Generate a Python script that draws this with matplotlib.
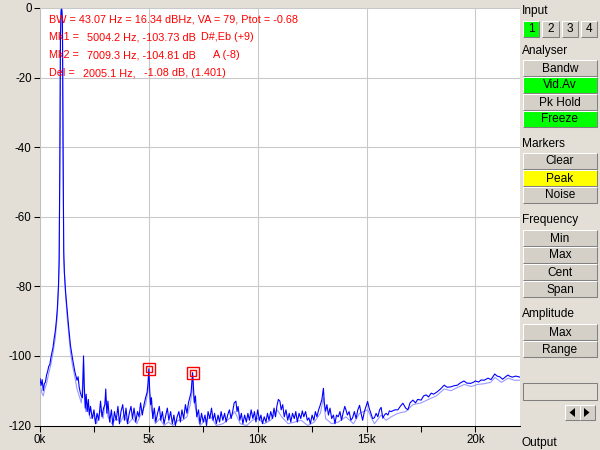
import matplotlib
matplotlib.use("Agg")
import matplotlib.pyplot as plt
from matplotlib.patches import Rectangle, Polygon
from matplotlib.ticker import MultipleLocator, FuncFormatter

plt.rcParams['font.family'] = ['Liberation Sans', 'DejaVu Sans']
plt.rcParams['axes.unicode_minus'] = False

# Spectrum, current frame (kHz, dB)
freq_khz = [
    0.00, 0.05, 0.10, 0.15, 0.20, 0.25, 0.30, 0.35, 0.40, 0.45, 0.50, 0.55,
    0.60, 0.65, 0.70, 0.75, 0.80, 0.85, 0.88, 0.91, 0.94, 0.97, 1.00, 1.03,
    1.06, 1.09, 1.12, 1.18, 1.25, 1.32, 1.40, 1.50, 1.60, 1.70, 1.75, 1.80,
    1.85, 1.90, 1.95, 1.98, 2.00, 2.03, 2.08, 2.12, 2.17, 2.22, 2.27, 2.32,
    2.40, 2.48, 2.55, 2.62, 2.70, 2.78, 2.85, 2.92, 2.98, 3.02, 3.07, 3.12,
    3.20, 3.28, 3.35, 3.42, 3.50, 3.58, 3.65, 3.72, 3.80, 3.88, 3.95, 4.02,
    4.10, 4.18, 4.25, 4.32, 4.40, 4.48, 4.55, 4.62, 4.70, 4.78, 4.85, 4.92,
    4.96, 5.00, 5.04, 5.08, 5.12, 5.18, 5.25, 5.32, 5.40, 5.48, 5.55, 5.62,
    5.70, 5.78, 5.85, 5.92, 6.00, 6.08, 6.15, 6.22, 6.30, 6.38, 6.45, 6.52,
    6.60, 6.68, 6.75, 6.82, 6.88, 6.94, 6.97, 7.01, 7.05, 7.09, 7.14, 7.20,
    7.28, 7.35, 7.42, 7.50, 7.58, 7.65, 7.72, 7.80, 7.88, 7.95, 8.02, 8.10,
    8.18, 8.25, 8.32, 8.40, 8.48, 8.55, 8.62, 8.70, 8.78, 8.85, 8.92, 9.00,
    9.05, 9.10, 9.18, 9.25, 9.32, 9.40, 9.48, 9.55, 9.62, 9.70, 9.78, 9.85,
    9.92, 10.00, 10.08, 10.15, 10.22, 10.30, 10.38, 10.45, 10.52, 10.60,
    10.68, 10.75, 10.82, 10.88, 10.95, 11.02, 11.08, 11.15, 11.22, 11.30,
    11.38, 11.45, 11.52, 11.60, 11.68, 11.75, 11.82, 11.90, 11.98, 12.05,
    12.12, 12.20, 12.28, 12.35, 12.42, 12.50, 12.58, 12.65, 12.72, 12.80,
    12.88, 12.95, 13.02, 13.06, 13.12, 13.18, 13.25, 13.32, 13.40, 13.48,
    13.55, 13.62, 13.70, 13.78, 13.85, 13.92, 14.00, 14.05, 14.12, 14.20,
    14.28, 14.36, 14.44, 14.52, 14.60, 14.68, 14.75, 14.82, 14.90, 14.98,
    15.05, 15.12, 15.20, 15.28, 15.36, 15.44, 15.52, 15.60, 15.67, 15.75,
    15.82, 15.90, 15.98, 16.05, 16.13, 16.30, 16.44, 16.55, 16.67, 16.80,
    16.90, 17.00, 17.13, 17.25, 17.35, 17.51, 17.62, 17.74, 17.85, 17.97,
    18.08, 18.25, 18.40, 18.57, 18.70, 18.88, 19.00, 19.18, 19.30, 19.48,
    19.60, 19.78, 19.90, 20.00, 20.15, 20.27, 20.40, 20.58, 20.72, 20.89,
    21.00, 21.12, 21.25, 21.35, 21.49, 21.60, 21.70, 21.85, 22.05,
]
level_db = [
    -106.5, -108.5, -106.8, -110.0, -108.0, -107.5, -105.5, -104.5, -103.0, -102.5, -100.5, -99.0,
    -97.5, -95.0, -93.0, -90.0, -86.0, -80.0, -72.0, -45.0, -8.0, -0.5, -0.3, -3.0,
    -40.0, -70.0, -76.0, -82.0, -87.0, -92.0, -97.0, -101.0, -104.5, -107.0, -106.0, -109.0,
    -110.5, -111.5, -112.0, -104.0, -100.0, -108.0, -115.0, -111.0, -116.0, -112.5, -117.0, -114.5,
    -118.0, -115.5, -119.5, -116.5, -118.5, -113.0, -117.5, -115.0, -114.0, -109.5, -116.5, -113.0,
    -119.0, -115.5, -120.0, -116.0, -118.5, -114.5, -119.5, -116.0, -114.0, -118.5, -115.0, -119.5,
    -116.5, -114.5, -118.0, -115.0, -119.0, -116.0, -117.5, -113.5, -117.0, -114.0, -112.0, -110.5,
    -108.0, -103.7, -110.0, -114.0, -112.0, -118.0, -115.0, -119.0, -116.5, -114.5, -118.5, -116.0,
    -119.5, -117.0, -115.0, -118.5, -116.0, -119.5, -117.0, -120.0, -117.5, -116.0, -119.0, -115.5,
    -118.0, -114.0, -116.5, -113.5, -112.0, -110.5, -108.0, -104.8, -109.0, -113.5, -111.5, -117.5,
    -115.5, -119.5, -116.5, -119.0, -117.0, -120.0, -116.0, -118.0, -115.0, -118.5, -116.5, -119.5,
    -117.0, -119.0, -116.0, -118.5, -116.5, -119.0, -117.0, -115.5, -118.0, -116.0, -113.5, -113.0,
    -116.0, -114.5, -118.5, -116.5, -119.5, -117.0, -119.0, -116.5, -118.5, -115.5, -118.0, -116.0,
    -119.0, -115.5, -118.5, -117.0, -119.5, -117.5, -119.0, -116.5, -118.5, -116.0,
    -118.0, -115.0, -117.5, -114.5, -112.5, -113.0, -115.5, -114.0, -117.5, -115.5,
    -118.5, -116.5, -119.0, -116.5, -118.0, -116.0, -119.0, -116.5, -118.0, -115.8,
    -117.5, -116.0, -118.5, -117.8, -119.5, -117.0, -118.5, -116.0, -117.5, -115.5,
    -114.0, -112.5, -109.3, -113.5, -115.9, -114.0, -117.0, -115.0, -118.0, -117.0,
    -119.5, -117.0, -117.5, -116.0, -118.5, -116.5, -114.5, -115.4, -117.0, -116.0,
    -118.5, -117.8, -116.0, -118.0, -115.5, -114.2, -116.5, -118.5, -116.0, -114.5,
    -113.1, -115.0, -116.5, -118.0, -117.8, -116.5, -117.5, -115.5, -114.8, -117.9,
    -117.0, -116.5, -117.0, -115.8, -116.0, -115.5, -115.5, -114.5, -113.6, -115.0,
    -115.5, -113.5, -112.7, -113.5, -112.5, -112.7, -111.5, -111.2, -111.8, -110.7,
    -111.0, -110.3, -109.5, -108.4, -109.0, -108.9, -108.6, -108.4, -107.8, -107.2,
    -107.8, -107.9, -107.6, -107.2, -107.5, -106.9, -107.0, -106.4, -106.8, -105.2,
    -105.8, -106.0, -106.7, -106.2, -105.5, -105.9, -106.1, -105.8, -106.1,
]

# Video-averaged trace (kHz, dB)
avg_khz = [
    0.00, 0.08, 0.15, 0.22, 0.30, 0.40, 0.50, 0.60, 0.70, 0.80, 0.88, 0.91,
    0.94, 0.97, 1.00, 1.03, 1.06, 1.09, 1.15, 1.25, 1.40, 1.50, 1.60, 1.70,
    1.80, 1.90, 1.98, 2.00, 2.03, 2.10, 2.20, 2.30, 2.45, 2.60, 2.78, 2.90,
    3.02, 3.12, 3.30, 3.50, 3.70, 3.85, 4.05, 4.25, 4.45, 4.65, 4.85, 4.96,
    5.00, 5.04, 5.12, 5.30, 5.50, 5.70, 5.90, 6.10, 6.35, 6.55, 6.75, 6.90,
    6.97, 7.01, 7.05, 7.14, 7.35, 7.60, 7.85, 8.10, 8.40, 8.70, 8.95, 9.20,
    9.50, 9.75, 10.00, 10.30, 10.60, 10.90, 11.10, 11.40, 11.70, 12.00, 12.30,
    12.60, 12.88, 13.02, 13.12, 13.40, 13.70, 14.05, 14.40, 14.68, 15.05,
    15.36, 15.67, 15.90, 16.13, 16.44, 16.80, 17.13, 17.50, 17.85, 18.20,
    18.57, 18.88, 19.20, 19.50, 19.80, 20.10, 20.40, 20.70, 20.90, 21.20,
    21.50, 21.80, 22.05,
]
avg_db = [
    -108.0, -110.5, -111.5, -109.5, -108.0, -105.0, -102.5, -99.0, -95.0, -88.0, -74.0, -48.0,
    -10.0, -1.0, -0.8, -4.0, -42.0, -72.0, -80.0, -89.0, -99.0, -103.0, -106.0, -109.5,
    -111.5, -113.5, -106.0, -102.0, -110.0, -116.0, -114.0, -118.0, -117.0, -119.5, -115.5, -118.0,
    -112.0, -117.5, -119.5, -118.0, -119.0, -117.0, -119.5, -118.0, -119.5, -116.5, -114.0, -110.0,
    -106.0, -112.0, -115.5, -119.5, -118.0, -120.0, -119.0, -120.0, -118.5, -118.5, -117.5, -114.0,
    -111.0, -107.0, -111.5, -115.0, -120.0, -118.5, -117.5, -120.0, -119.5, -118.0, -116.0, -119.5,
    -120.0, -118.5, -118.0, -119.5, -118.5, -115.5, -117.5, -119.5, -119.0, -118.5, -120.0,
    -119.0, -116.5, -112.0, -118.0, -119.5, -119.0, -117.5, -119.5, -116.5, -115.5,
    -119.5, -117.0, -118.5, -117.5, -116.5, -116.0, -114.0, -113.5, -112.5, -111.5,
    -109.5, -110.0, -109.0, -108.2, -108.8, -108.2, -108.0, -107.6, -106.2, -107.6,
    -106.4, -107.0, -107.0,
]

marker_khz = [5.0042, 7.0093]
marker_db = [-103.73, -104.81]

BG = '#e3dfd7'
FACE = '#d4d0c8'
RED = '#ff0000'

fig = plt.figure(figsize=(6, 4.5), dpi=100, facecolor=BG)

# --- spectrum plot -------------------------------------------------------
ax = fig.add_axes([40 / 600, 24.5 / 450, 480 / 600, 417.5 / 450])
ax.set_facecolor('white')
ax.plot(avg_khz, avg_db, color='#9a9aff', lw=0.8, zorder=2)
ax.plot(freq_khz, level_db, color='#0000ff', lw=0.8, zorder=3)
ax.plot(marker_khz, marker_db, 's', ms=8.5, mfc='none', mec=RED, mew=1.0, zorder=4)
ax.plot(marker_khz, marker_db, 's', ms=4.2, mfc='none', mec=RED, mew=1.0, zorder=4)

ax.set_xlim(0, 22.05)
ax.set_ylim(-120, 0)
ax.xaxis.set_major_locator(MultipleLocator(5))
ax.xaxis.set_minor_locator(MultipleLocator(2.5))
ax.xaxis.set_major_formatter(FuncFormatter(lambda v, p: f"{v:g}k"))
ax.yaxis.set_major_locator(MultipleLocator(20))
ax.grid(True, which='major', color='#c8c8c8', lw=0.75)
ax.set_axisbelow(True)
ax.tick_params(axis='both', which='both', direction='out', length=4.5, width=0.75,
               color='black', labelsize=8.3, pad=1.5)
for side in ('top', 'right'):
    ax.spines[side].set_visible(False)
ax.spines['left'].set_color('#c0c0c0')
ax.spines['bottom'].set_color('black')
ax.spines['left'].set_linewidth(0.75)
ax.spines['bottom'].set_linewidth(0.75)

# --- overlay in pixel coordinates: info text and control panel ----------
ov = fig.add_axes([0, 0, 1, 1], zorder=5)
ov.set_xlim(0, 600)
ov.set_ylim(450, 0)
ov.axis('off')
ov.patch.set_visible(False)

info = [
    (49, 19, "BW = 43.07 Hz = 16.34 dBHz, VA = 79, Ptot = -0.68"),
    (49, 37, "Mk1 ="), (87, 37, "5004.2 Hz, -103.73 dB"), (201, 37, "D#,Eb (+9)"),
    (49, 55, "Mk2 ="), (87, 55, "7009.3 Hz, -104.81 dB"), (213, 55, "A (-8)"),
    (49, 73, "Del ="), (83, 73, "2005.1 Hz,"), (144, 73, "-1.08 dB, (1.401)"),
]
for x, y, s in info:
    ov.text(x, y, s, color=RED, fontsize=7.8, ha='left', va='center')


def button(x0, y0, x1, y1, text='', face=FACE):
    ov.add_patch(Rectangle((x0, y0), x1 - x0, y1 - y0, facecolor=face, edgecolor='none'))
    ov.plot([x0, x0, x1], [y1, y0, y0], color='white', lw=0.75, solid_capstyle='butt')
    ov.plot([x0, x1, x1], [y1, y1, y0], color='#808080', lw=0.75, solid_capstyle='butt')
    if text:
        ov.text((x0 + x1) / 2, (y0 + y1) / 2 + 0.5, text, fontsize=8.6,
                ha='center', va='center', color='black')


section_labels = [("Input", 11), ("Analyser", 51), ("Markers", 144),
                  ("Frequency", 220), ("Amplitude", 314), ("Output", 443)]
for s, y in section_labels:
    ov.text(522, y, s, fontsize=8.6, ha='left', va='center', color='black')

# input channel buttons
for i, (x0, x1) in enumerate([(523, 539), (542, 559), (562, 578), (581, 597)]):
    button(x0, 21, x1, 37, str(i + 1), '#00ff00' if i == 0 else FACE)

panel_buttons = [
    ("Bandw", 60, FACE), ("Vid.Av", 77, '#00ff00'), ("Pk Hold", 94, FACE),
    ("Freeze", 111, '#00ff00'),
    ("Clear", 153, FACE), ("Peak", 170, '#ffff00'), ("Noise", 187, FACE),
    ("Min", 230, FACE), ("Max", 247, FACE), ("Cent", 264, FACE), ("Span", 281, FACE),
    ("Max", 324, FACE), ("Range", 341, FACE),
]
for s, y0, c in panel_buttons:
    button(523, y0, 597, y0 + 16, s, c)

# sunken entry box
ov.add_patch(Rectangle((523, 383), 74, 17, facecolor=BG, edgecolor='#808080', lw=0.75))

# arrow buttons
button(565, 405, 580, 420)
button(580, 405, 595, 420)
ov.add_patch(Polygon([[575, 408], [575, 417], [569.5, 412.5]], closed=True,
                     facecolor='black', edgecolor='none'))
ov.add_patch(Polygon([[584, 408], [584, 417], [589.5, 412.5]], closed=True,
                     facecolor='black', edgecolor='none'))

fig.savefig('out.png', dpi=100, facecolor=BG)
